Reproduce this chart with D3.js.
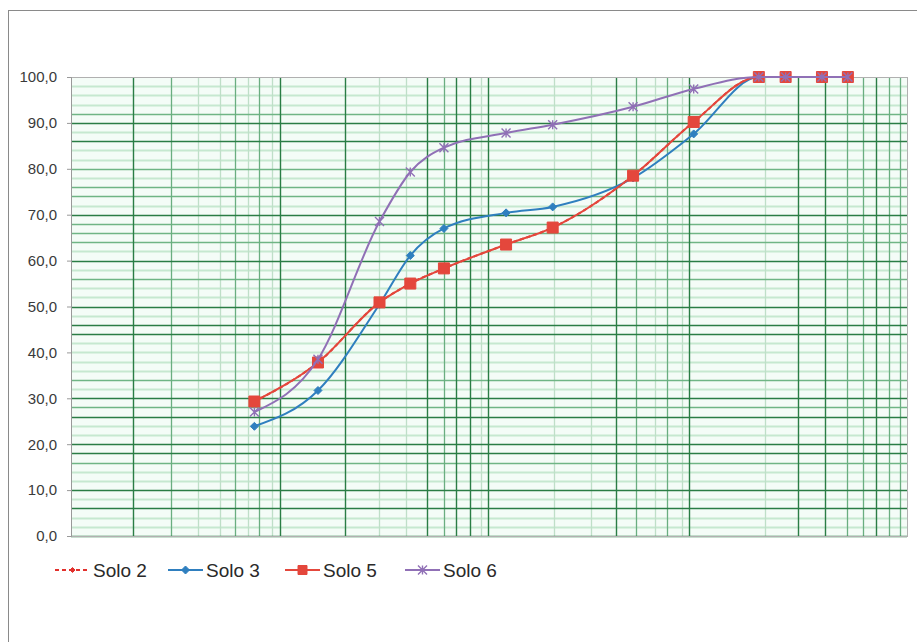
<!DOCTYPE html>
<html lang="pt">
<head>
    <meta charset="UTF-8">
    <script src="https://d3js.org/d3.v7.min.js"></script>
    <title>Curva granulométrica</title>
    <style>
        body { margin: 0; background: #fff; }
        svg { display: block; font-family: "Liberation Sans", Arial, sans-serif; }
        .ylab { font-size: 15px; fill: #3a3a3a; }
        .leg { font-size: 19px; fill: #2a2a2a; }
    </style>
</head>
<body>
    <div id="chart"></div>
    <script>
        // diâmetros (mm) dos pontos medidos
        const diam = [0.0125, 0.03, 0.07, 0.107, 0.17, 0.4, 0.76, 2.3, 5.3, 13, 18.8, 31, 44.3];

        // % passante de cada solo
        const solo2 = [29.3, 37.8, 50.9, 55.0, 58.3, 63.5, 67.2, 78.5, 90.2, 100, 100, 100, 100];
        const solo3 = [23.9, 31.7, 50.5, 61.1, 67.0, 70.4, 71.7, 78.0, 87.6, 100, 100, 100, 100];
        const solo5 = [29.3, 37.8, 50.9, 55.0, 58.3, 63.5, 67.2, 78.5, 90.2, 100, 100, 100, 100];
        const solo6 = [27.0, 38.5, 68.5, 79.3, 84.6, 87.8, 89.6, 93.5, 97.4, 100, 100, 100, 100];

        const yTicks = [0, 10, 20, 30, 40, 50, 60, 70, 80, 90, 100];

        // grade do papel (fundo) - linhas verticais em mm
        const vGridDark = [0.00235, 0.0178, 0.0438, 0.1355, 0.202, 0.242, 0.314, 1.83, 4.95, 22.2, 32.3, 65.2];
        const vGridMid = [0.00397, 0.0096, 0.0134, 0.169, 2.38, 3.66, 43.7, 54.5, 78.0, 90.8];
        const vGridLight = [0.00575, 0.0078, 0.0115, 0.016, 0.0698, 0.101, 0.285, 0.769, 1.28, 3.10, 4.50, 14.1];

        // linhas horizontais em %
        const hGridDark = [0, 6, 10, 18, 20, 26, 30, 44, 46, 50, 60, 70, 86, 90];
        const hGridMid = [16, 28, 34, 56, 64, 66, 68, 74, 76, 80, 92];
        const hGridLight = [2, 4, 8, 12, 14, 22, 24, 32, 36, 38, 40, 42, 48, 52, 54, 58, 62, 72, 78, 82, 84, 88, 94, 96, 98];

        const series = [
            { name: "Solo 2", values: solo2, color: "#e2302c", dash: "4,3", marker: "diamond", size: 5 },
            { name: "Solo 3", values: solo3, color: "#2f7fbf", dash: null, marker: "diamond", size: 8 },
            { name: "Solo 5", values: solo5, color: "#e4473c", dash: null, marker: "square", size: 11 },
            { name: "Solo 6", values: solo6, color: "#9070b6", dash: null, marker: "star", size: 9 }
        ];

        const W = 917, H = 642;
        const margin = { left: 71, right: 10, top: 77, bottom: 106 };

        const svg = d3.select("#chart").append("svg")
            .attr("width", W)
            .attr("height", H);

        // moldura da área do gráfico
        svg.append("rect")
            .attr("x", 8.5).attr("y", 10.5)
            .attr("width", W).attr("height", H)
            .attr("fill", "#fff")
            .attr("stroke", "#8a8a8a");

        const x = d3.scaleLog()
            .domain([0.001, 100])
            .range([margin.left, W - margin.right]);

        const y = d3.scaleLinear()
            .domain([0, 100])
            .range([H - margin.bottom, margin.top]);

        const plot = svg.append("g");

        plot.append("rect")
            .attr("x", x.range()[0]).attr("y", y(100))
            .attr("width", x.range()[1] - x.range()[0])
            .attr("height", y(0) - y(100))
            .attr("fill", "#f4fcf7");

        const drawH = (vals, color, w) => {
            plot.append("g").selectAll("line").data(vals).enter().append("line")
                .attr("x1", x.range()[0]).attr("x2", x.range()[1])
                .attr("y1", d => Math.round(y(d)) + 0.5).attr("y2", d => Math.round(y(d)) + 0.5)
                .attr("stroke", color).attr("stroke-width", w);
        };
        const drawV = (vals, color, w) => {
            plot.append("g").selectAll("line").data(vals).enter().append("line")
                .attr("y1", y(0)).attr("y2", y(100))
                .attr("x1", d => Math.round(x(d)) + 0.5).attr("x2", d => Math.round(x(d)) + 0.5)
                .attr("stroke", color).attr("stroke-width", w);
        };

        drawH(hGridLight, "#c6e8d0", 2);
        drawV(vGridLight, "#bfdfc8", 1.3);
        drawH(hGridMid, "#6fb585", 1.3);
        drawV(vGridMid, "#6aae80", 1.3);
        drawH(hGridDark, "#2a7d45", 1.4);
        drawV(vGridDark, "#2a7d45", 1.4);

        // borda da área de plotagem
        plot.append("rect")
            .attr("x", x.range()[0] + 0.5).attr("y", y(100) + 0.5)
            .attr("width", x.range()[1] - x.range()[0])
            .attr("height", y(0) - y(100))
            .attr("fill", "none")
            .attr("stroke", "#b0b0b0");

        // eixo Y
        const locale = d3.formatLocale({ decimal: ",", thousands: ".", grouping: [3], currency: ["", ""] });
        const fmt = locale.format(".1f");

        const yAxis = svg.append("g")
            .attr("transform", `translate(${x.range()[0]},0)`)
            .call(d3.axisLeft(y).tickValues(yTicks).tickFormat(fmt).tickSize(4).tickPadding(10));
        yAxis.select(".domain").attr("stroke", "#999");
        yAxis.selectAll(".tick line").attr("stroke", "#999");
        yAxis.selectAll(".tick text").attr("class", "ylab").attr("font-family", null).attr("font-size", null);

        // curvas
        const line = d3.line()
            .x(d => x(d[0]))
            .y(d => y(d[1]))
            .curve(d3.curveMonotoneX);

        const markerPath = (type, s) => {
            if (type === "square") return `M${-s / 2},${-s / 2}h${s}v${s}h${-s}Z`;
            if (type === "diamond") return `M0,${-s / 2}L${s / 2},0L0,${s / 2}L${-s / 2},0Z`;
            // estrela (asterisco)
            return `M${-s / 2},${-s / 2}L${s / 2},${s / 2}M${-s / 2},${s / 2}L${s / 2},${-s / 2}M0,${-s / 2}V${s / 2}`;
        };

        series.forEach(s => {
            const pts = diam.map((d, i) => [d, s.values[i]]);
            const g = svg.append("g");
            g.append("path")
                .datum(pts)
                .attr("d", line)
                .attr("fill", "none")
                .attr("stroke", s.color)
                .attr("stroke-width", 2)
                .attr("stroke-dasharray", s.dash);
            g.selectAll("path.mk").data(pts).enter().append("path")
                .attr("class", "mk")
                .attr("transform", d => `translate(${x(d[0])},${y(d[1])})`)
                .attr("d", markerPath(s.marker, s.size))
                .attr("fill", s.marker === "star" ? "none" : s.color)
                .attr("stroke", s.color)
                .attr("stroke-width", s.marker === "star" ? 1.4 : 1);
        });

        // legenda
        const legX = [55, 168, 285, 405];
        const legY = 570;
        const leg = svg.append("g");
        series.forEach((s, i) => {
            const g = leg.append("g").attr("transform", `translate(${legX[i]},${legY})`);
            g.append("line")
                .attr("x1", 0).attr("x2", 35)
                .attr("y1", 0).attr("y2", 0)
                .attr("stroke", s.color)
                .attr("stroke-width", 2)
                .attr("stroke-dasharray", s.dash);
            g.append("path")
                .attr("transform", "translate(17.5,0)")
                .attr("d", markerPath(s.marker, s.marker === "square" ? 9 : s.size))
                .attr("fill", s.marker === "star" ? "none" : s.color)
                .attr("stroke", s.color)
                .attr("stroke-width", s.marker === "star" ? 1.4 : 1);
            g.append("text")
                .attr("class", "leg")
                .attr("x", 38)
                .attr("y", 7)
                .text(s.name);
        });
    </script>
</body>
</html>
